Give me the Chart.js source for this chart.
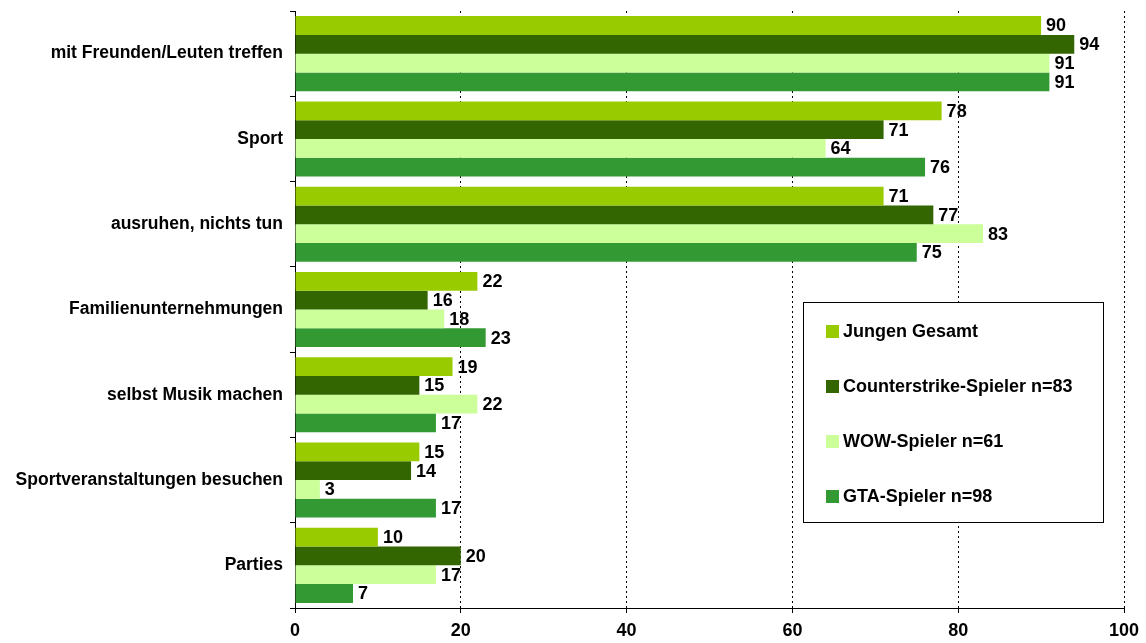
<!DOCTYPE html>
<html>
<head>
<meta charset="utf-8">
<script src="https://cdn.jsdelivr.net/npm/chart.js@4/dist/chart.umd.min.js"></script>
<style>
html,body{margin:0;padding:0;background:#fff;}
#wrap{width:1146px;height:643px;position:relative;}
</style>
</head>
<body>
<div id="wrap"><canvas id="c" width="1146" height="643"></canvas></div>
<script>
const categories = ["mit Freunden/Leuten treffen","Sport","ausruhen, nichts tun","Familienunternehmungen","selbst Musik machen","Sportveranstaltungen besuchen","Parties"];
const seriesNames = ["Jungen Gesamt","Counterstrike-Spieler n=83","WOW-Spieler n=61","GTA-Spieler n=98"];
const jungenGesamt = [90,78,71,22,19,15,10];
const counterstrike = [94,71,77,16,15,14,20];
const wow = [91,64,83,18,22,3,17];
const gta = [91,76,75,23,17,17,7];
const xTicks = [0,20,40,60,80,100];
const colors = ["#99CC00","#336600","#CCFF99","#339933"];

const FONT = "'Liberation Sans', Arial, sans-serif";

const valueLabels = {
  id:'valueLabels',
  afterDatasetsDraw(chart){
    const ctx = chart.ctx;
    ctx.save();
    ctx.font = "bold 18px " + FONT;
    ctx.fillStyle = "#000";
    ctx.textAlign = "left";
    ctx.textBaseline = "middle";
    chart.data.datasets.forEach((ds,i)=>{
      const meta = chart.getDatasetMeta(i);
      meta.data.forEach((bar,j)=>{
        ctx.fillText(String(ds.data[j]), bar.x + 5, bar.y + 1);
      });
    });
    ctx.restore();
  }
};

const boxLegend = {
  id:'boxLegend',
  afterDraw(chart){
    const ctx = chart.ctx;
    const x0 = 803, y0 = 302, w = 300, h = 220;
    ctx.save();
    ctx.fillStyle = "#fff";
    ctx.fillRect(x0,y0,w,h);
    ctx.strokeStyle = "#000";
    ctx.lineWidth = 1;
    ctx.strokeRect(x0+0.5,y0+0.5,w,h);
    ctx.font = "bold 18px " + FONT;
    ctx.textBaseline = "middle";
    ctx.textAlign = "left";
    chart.data.datasets.forEach((ds,i)=>{
      const cy = y0 + 29 + i*55;
      ctx.fillStyle = ds.backgroundColor;
      ctx.fillRect(x0+23, cy-6, 13, 13);
      ctx.fillStyle = "#000";
      ctx.fillText(ds.label, x0+40, cy+1);
    });
    ctx.restore();
  }
};

const seriesData = [jungenGesamt, counterstrike, wow, gta];

new Chart(document.getElementById('c'), {
  type:'bar',
  data:{
    labels: categories,
    datasets: seriesNames.map((n,i)=>({
      label:n,
      data:seriesData[i],
      backgroundColor:colors[i],
      borderWidth:0,
      categoryPercentage:0.88,
      barPercentage:1.0
    }))
  },
  options:{
    indexAxis:'y',
    responsive:false,
    animation:false,
    layout:{padding:{top:11,right:22,left:0,bottom:0}},
    plugins:{legend:{display:false},tooltip:{enabled:false}},
    scales:{
      x:{
        min:0,max:100,
        afterBuildTicks(axis){ axis.ticks = xTicks.map(v=>({value:v})); },
        afterFit(axis){ axis.height = 35; axis.paddingRight = 0; axis.paddingLeft = 0; },
        grid:{
          color:"#000",
          lineWidth:1,
          drawTicks:true,
          tickLength:5,
          tickColor:"#000",
          tickBorderDash:[],
        },
        border:{display:true,color:"#000",dash:[2,3],width:1},
        ticks:{color:"#000",font:{family:FONT,size:18,weight:'bold'},padding:7}
      },
      y:{
        afterFit(axis){ axis.width = 295; axis.paddingTop = 0; axis.paddingBottom = 0; },
        grid:{
          offset:true,
          drawOnChartArea:false,
          drawTicks:true,
          tickLength:5,
          color:"#000"
        },
        border:{display:true,color:"#000",width:1},
        ticks:{color:"#000",font:{family:FONT,size:17.5,weight:'bold'},padding:7,autoSkip:false}
      }
    }
  },
  plugins:[valueLabels, boxLegend, {
    id:'xAxisLine',
    afterDatasetsDraw(chart){
      const ctx = chart.ctx, a = chart.chartArea;
      ctx.save();
      ctx.strokeStyle = "#000";
      ctx.lineWidth = 1;
      ctx.beginPath();
      ctx.moveTo(a.left-5, Math.round(a.bottom)+0.5);
      ctx.lineTo(a.right, Math.round(a.bottom)+0.5);
      ctx.stroke();
      ctx.restore();
    }
  }]
});
</script>
</body>
</html>
